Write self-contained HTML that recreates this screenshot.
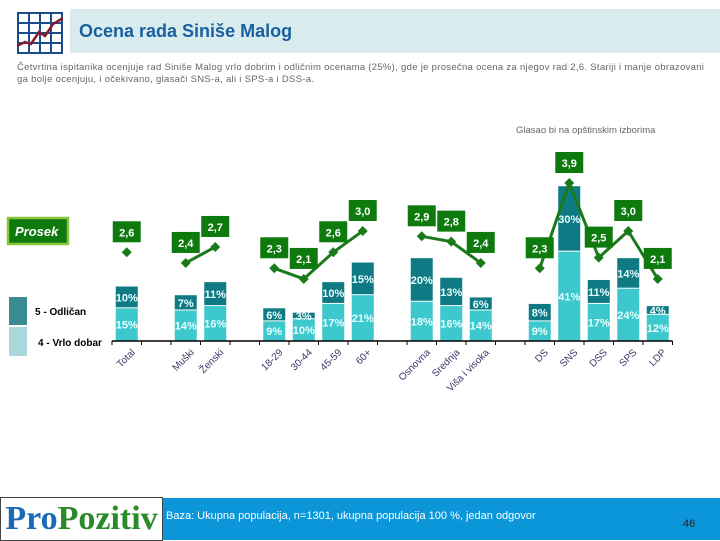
<!DOCTYPE html>
<html><head><meta charset="utf-8"><style>
body{margin:0;width:720px;height:540px;overflow:hidden;background:#fff;font-family:"Liberation Sans","DejaVu Sans",sans-serif;position:relative}
.abs{position:absolute}
</style></head><body>
<div class="abs" style="left:17px;top:12px;width:46px;height:42px">
<svg width="46" height="42" viewBox="0 0 46 42"><rect x="1" y="1" width="44" height="40" fill="#fff" stroke="#1a4c8c" stroke-width="2"/>
<g stroke="#1a4c8c" stroke-width="2"><line x1="12" y1="1" x2="12" y2="41"/><line x1="23" y1="1" x2="23" y2="41"/><line x1="34" y1="1" x2="34" y2="41"/><line x1="1" y1="11" x2="45" y2="11"/><line x1="1" y1="21" x2="45" y2="21"/><line x1="1" y1="31" x2="45" y2="31"/></g>
<polyline points="-4,36 8,30 14,32 22,20 28,24 36,12 46,6" fill="none" stroke="#8a1a2a" stroke-width="2.5"/></svg></div>
<div class="abs" style="left:70px;top:9px;width:650px;height:44px;background:#d8ecee"></div>
<div class="abs" style="left:79px;top:21px;font-size:18px;font-weight:bold;color:#1a5fa0">Ocena rada Siniše Malog</div>
<div class="abs" style="left:17px;top:62px;width:700px;font-size:9.5px;line-height:12px;color:#666;letter-spacing:0.3px">Četvrtina ispitanika ocenjuje rad Siniše Malog vrlo dobrim i odličnim ocenama (25%), gde je prosečna ocena za njegov rad 2,6. Stariji i manje obrazovani ga bolje ocenjuju, i očekivano, glasači SNS-a, ali i SPS-a i DSS-a.</div>
<div class="abs" style="left:516px;top:125px;font-size:9.5px;color:#666">Glasao bi na opštinskim izborima</div>

<svg class="abs" style="left:0;top:0" width="720" height="497" id="chart"></svg>

<div class="abs" style="left:0;top:497px;width:161px;height:42px;border:1px solid #444;background:#fff;font-family:'Liberation Serif',serif;font-weight:bold;font-size:34px;line-height:42px;text-align:center"><span style="color:#1a6ab8">Pro</span><span style="color:#2a8a2a">Pozitiv</span></div>
<div class="abs" style="left:163px;top:498px;width:557px;height:42px;background:#0a96d8"></div>
<div class="abs" style="left:166px;top:510px;font-size:11px;color:#fff">Baza: Ukupna populacija, n=1301, ukupna populacija 100 %, jedan odgovor</div>
<div class="abs" style="left:683px;top:518px;font-size:11px;color:#222">46</div>

<script>
const categories=["Total","","Muški","Ženski","","18-29","30-44","45-59","60+","","Osnovna","Srednja","Viša i visoka","","DS","SNS","DSS","SPS","LDP"];
const vrloDobar=[15,null,14,16,null,9,10,17,21,null,18,16,14,null,9,41,17,24,12];
const odlican=[10,null,7,11,null,6,3,10,15,null,20,13,6,null,8,30,11,14,4];
const prosek=[2.6,null,2.4,2.7,null,2.3,2.1,2.6,3.0,null,2.9,2.8,2.4,null,2.3,3.9,2.5,3.0,2.1];
const lineGroups=[[0],[2,3],[5,6,7,8],[10,11,12],[14,15,16,17,18]];

const svg=document.getElementById('chart');const NS='http://www.w3.org/2000/svg';
function el(t,a,p){const e=document.createElementNS(NS,t);for(const k in a)e.setAttribute(k,a[k]);(p||svg).appendChild(e);return e;}
const x0=112,slot=29.5,base=341;
const xc=i=>x0+slot*(i+0.5);
const yPct=v=>base-v*2.18;
const yAvg=v=>183+(3.9-v)*53.3;
categories.forEach((c,i)=>{
 if(vrloDobar[i]==null)return;
 const xl=xc(i)-11, y1=yPct(vrloDobar[i]), y2=yPct(vrloDobar[i]+odlican[i]);
 const r1=el('rect',{x:xl,y:y1,width:22,height:base-y1,fill:'#3cc8cc'});
 
 
 const r2=el('rect',{x:xl,y:y2,width:22,height:y1-y2-1,fill:'#0f7a84'});
 
 
 const t1=el('text',{x:xc(i),y:(y1+base)/2+4,'text-anchor':'middle','font-size':11,'font-weight':'bold',fill:'#e8ffff'});t1.textContent=vrloDobar[i]+'%';
 
 
 const t2=el('text',{x:xc(i),y:(y1+y2)/2+4,'text-anchor':'middle','font-size':11,'font-weight':'bold',fill:'#e8ffff'});t2.textContent=odlican[i]+'%';
 
 
});
const ax=el('line',{x1:x0,y1:base,x2:x0+slot*19,y2:base,stroke:'#000','stroke-width':1.5});


for(let i=0;i<=19;i++){el('line',{x1:x0+slot*i,y1:base,x2:x0+slot*i,y2:base+4,stroke:'#000'});}
categories.forEach((c,i)=>{if(!c)return;
 const ax_=xc(i)+9, ay_=base+12;
 const t=el('text',{x:ax_,y:ay_,'text-anchor':'end','font-size':10,fill:'#3a3a6a',transform:`rotate(-45 ${ax_} ${ay_})`});t.textContent=c;
 
 });
lineGroups.forEach(g=>{
 if(g.length>1){const pl=el('polyline',{points:g.map(i=>xc(i)+','+yAvg(prosek[i])).join(' '),fill:'none',stroke:'#1a7a1a','stroke-width':3});
 
 }
 g.forEach(i=>{const x=xc(i),y=yAvg(prosek[i]);
  const d=el('path',{d:`M${x} ${y-5}L${x+5} ${y}L${x} ${y+5}L${x-5} ${y}Z`,fill:'#1a7a1a'});
  
  
  const b=el('rect',{x:x-14,y:y-31,width:28,height:21,fill:'#0e7a0e'});
  
  
  const t=el('text',{x:x,y:y-16,'text-anchor':'middle','font-size':11,'font-weight':'bold',fill:'#fff'});t.textContent=prosek[i].toFixed(1).replace('.',',');
  
  });
});
const lg=el('rect',{x:8,y:218,width:60,height:26,fill:'#0e7a0e',stroke:'#8ac43a','stroke-width':2.5});


const lt=el('text',{x:15,y:236,'font-size':13,'font-weight':'bold','font-style':'italic',fill:'#fff'});lt.textContent='Prosek';
const s1=el('rect',{x:9,y:297,width:18,height:28,fill:'#3a8a92'});


const s2=el('rect',{x:9,y:327,width:18,height:29,fill:'#a8d8dc'});


const l1=el('text',{x:35,y:315,'font-size':10,'font-weight':'bold',fill:'#000'});l1.textContent='5 - Odličan';


const l2=el('text',{x:38,y:346,'font-size':10,'font-weight':'bold',fill:'#000'});l2.textContent='4 - Vrlo dobar';


</script>
</body></html>
